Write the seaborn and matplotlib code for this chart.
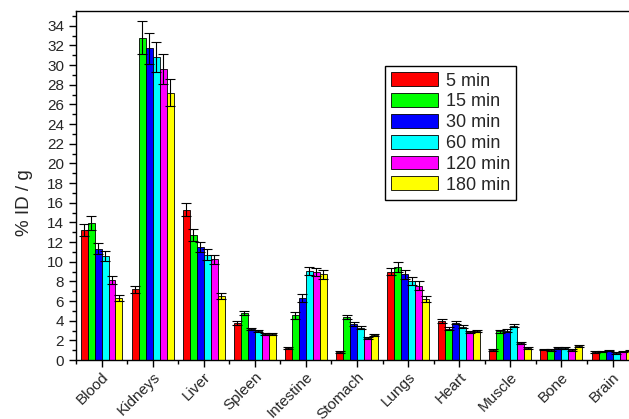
import numpy as np
import pandas as pd
import matplotlib
matplotlib.use("Agg")
import matplotlib.pyplot as plt
import seaborn as sns
from matplotlib.ticker import MultipleLocator, FixedLocator

# organ names and time points
organs = ['Blood', 'Kidneys', 'Liver', 'Spleen', 'Intestine', 'Stomach',
          'Lungs', 'Heart', 'Muscle', 'Bone', 'Brain']
times = ['5 min', '15 min', '30 min', '60 min', '120 min', '180 min']

# %ID/g
v5 = [13.2, 7.2, 15.3, 3.75, 1.25, 0.8, 9.0, 3.95, 1.0, 1.05, 0.8]
v15 = [13.9, 32.8, 12.7, 4.75, 4.55, 4.35, 9.45, 3.2, 2.9, 1.0, 0.88]
v30 = [11.3, 31.7, 11.5, 3.15, 6.3, 3.7, 8.7, 3.8, 3.0, 1.25, 0.98]
v60 = [10.6, 30.8, 10.7, 2.95, 9.05, 3.3, 8.0, 3.4, 3.5, 1.2, 0.72]
v120 = [8.15, 29.6, 10.25, 2.65, 8.95, 2.25, 7.55, 2.85, 1.7, 1.0, 0.85]
v180 = [6.3, 27.2, 6.5, 2.65, 8.7, 2.55, 6.2, 2.95, 1.25, 1.4, 0.98]

# error bars (sd)
e5 = [0.6, 0.35, 0.7, 0.2, 0.1, 0.1, 0.4, 0.2, 0.1, 0.08, 0.08]
e15 = [0.7, 1.65, 0.6, 0.2, 0.35, 0.2, 0.5, 0.15, 0.15, 0.08, 0.08]
e30 = [0.55, 1.6, 0.55, 0.1, 0.4, 0.2, 0.45, 0.15, 0.15, 0.08, 0.08]
e60 = [0.5, 1.5, 0.55, 0.1, 0.45, 0.15, 0.4, 0.15, 0.15, 0.08, 0.08]
e120 = [0.4, 1.5, 0.47, 0.1, 0.45, 0.1, 0.45, 0.12, 0.1, 0.08, 0.08]
e180 = [0.3, 1.35, 0.33, 0.1, 0.45, 0.1, 0.3, 0.12, 0.1, 0.08, 0.08]

colors = ['#ff0000', '#00ff00', '#0000ff', '#00ffff', '#ff00ff', '#ffff00']

vals = [v5, v15, v30, v60, v120, v180]
errs = [e5, e15, e30, e60, e120, e180]

rows = []
for t, vs, es in zip(times, vals, errs):
    for o, v, e in zip(organs, vs, es):
        rows.append({'organ': o, 'time': t, 'value': v, 'err': e})
df = pd.DataFrame(rows)

sns.set_style("ticks")
plt.rcParams['font.family'] = ['Liberation Sans', 'DejaVu Sans']

fig = plt.figure(figsize=(6.29, 4.19), dpi=100)
ax = fig.add_axes([0.1208, 0.1408, 0.879, 0.833])

sns.barplot(data=df, x='organ', y='value', hue='time', order=organs,
            hue_order=times, palette=colors, errorbar=None, width=0.82,
            edgecolor='black', linewidth=0.6, saturation=1, ax=ax)

# error bars on top of the bars seaborn drew
for cont, t in zip(ax.containers, times):
    sub = df[df.time == t].set_index('organ').loc[organs]
    xs = [p.get_x() + p.get_width() / 2 for p in cont.patches]
    hs = [p.get_height() for p in cont.patches]
    ax.errorbar(xs, hs, yerr=sub['err'].values, fmt='none', ecolor='black',
                elinewidth=0.8, capsize=3.5, capthick=0.8, zorder=5)

ax.set_xlim(-0.5, 10.32)
ax.set_ylim(0, 35.5)
ax.yaxis.set_major_locator(MultipleLocator(2))
ax.yaxis.set_minor_locator(MultipleLocator(1))
ax.xaxis.set_minor_locator(FixedLocator(np.arange(-0.5, 11, 1)))
ax.tick_params(axis='both', which='major', direction='out', length=5,
               width=1, color='black')
ax.tick_params(axis='y', which='major', labelsize=11)
ax.tick_params(axis='x', which='major', pad=2)
ax.tick_params(axis='both', which='minor', direction='out', length=3,
               width=1, color='black')
ax.set_xticks(range(len(organs)))
ax.set_xticklabels(organs, rotation=45, ha='right', rotation_mode='anchor',
                   fontsize=11)
ax.set_xlabel('')
ax.set_ylabel('% ID / g', fontsize=13.5)
ax.yaxis.set_label_coords(-0.078, 0.45)
for s in ['left', 'bottom', 'top']:
    ax.spines[s].set_color('black')
    ax.spines[s].set_linewidth(1)
ax.spines['right'].set_visible(False)

leg = ax.legend(loc='upper left', bbox_to_anchor=(0.559, 0.842),
                borderaxespad=0, fontsize=13, handlelength=2.6,
                handleheight=0.8, labelspacing=0.2, handletextpad=0.4,
                borderpad=0.35, fancybox=False, framealpha=1,
                edgecolor='black', title=None)
leg.get_frame().set_linewidth(1)

fig.savefig('out.png', dpi=100)
